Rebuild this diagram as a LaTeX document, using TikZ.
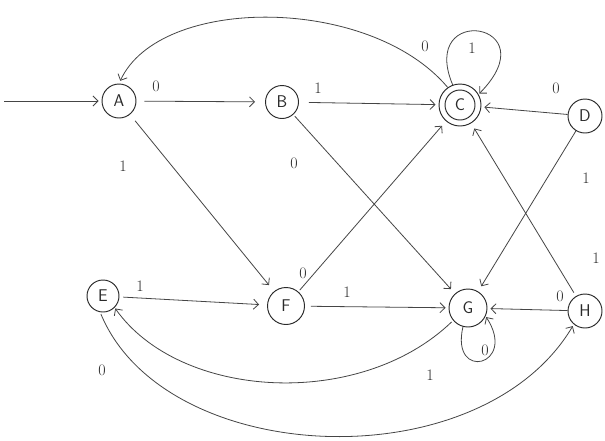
\documentclass[tikz,border=0pt]{standalone}
\usetikzlibrary{arrows.meta}
\definecolor{ink}{HTML}{2A2A2A}
\definecolor{pen}{HTML}{454545}
\begin{document}
\begin{tikzpicture}[x=1pt,y=-1pt,
  state/.style={circle,draw=ink,line width=0.95pt,inner sep=0pt,text=ink,
    font=\sffamily\fontsize{17}{17}\selectfont},
  edge/.style={draw=pen,line width=0.8pt,-{Straight Barb[length=5pt,width=10pt]},
    shorten >=3pt,shorten <=3pt},
  lbl/.style={inner sep=0pt,text=ink,font=\fontsize{16}{16}\selectfont}]
\useasboundingbox[fill=white] (0,0) rectangle (605,440);

% states
\node[state,minimum size=34pt] (A) at (119,101) {A};
\node[state,minimum size=33pt] (B) at (282,102) {B};
\node[state,minimum size=42pt] (C) at (460,105) {C};
\draw[ink,line width=0.95pt] (C.center) circle (15pt);
\node[state,minimum size=34pt] (D) at (585,116) {D};
\node[state,minimum size=32pt] (E) at (103,296) {E};
\node[state,minimum size=37pt] (F) at (286,306) {F};
\node[state,minimum size=38pt] (G) at (468,308) {G};
\node[state,minimum size=34pt] (H) at (585,311) {H};

% start arrow
\coordinate (start) at (4,101);
\draw[edge,shorten <=0pt] (start) -- (A);

% horizontal transitions
\draw[edge,shorten <=8pt,shorten >=10pt] (A) -- (B);
\draw[edge,shorten <=10pt] (B) -- (C);
\draw[edge,shorten <=0pt] (D) -- (C);
\draw[edge,shorten <=4pt,shorten >=8pt] (E) -- (F);
\draw[edge,shorten <=6pt] (F) -- (G);
\draw[edge,shorten <=0pt] (H) -- (G);

% diagonals
\draw[edge,shorten <=8pt,shorten >=8pt] (A) -- (F);
\draw[edge,shorten <=2pt,shorten >=6pt] (B) -- (G);
\draw[edge,shorten <=2pt,shorten >=6pt] (F) -- (C);
\draw[edge,shorten <=0pt,shorten >=6pt] (D) -- (G);
\draw[edge,shorten <=4pt,shorten >=6pt] (H) -- (C);

% curved transitions
\draw[edge,shorten <=0pt] (C.125) .. controls (370,-5) and (160,-5) .. (A.north);
\draw[edge,shorten <=0pt,shorten >=1pt] (C.110) .. controls (418,2) and (550,22) .. (C.30);
\draw[edge,shorten <=0pt,shorten >=1pt] (G.255) .. controls (450,382) and (518,366) .. (G.-25);
\draw[edge,shorten <=2pt,shorten >=1pt] (G.-140) .. controls (360,410) and (180,400) .. (E.-45);
\draw[edge,shorten <=2pt,shorten >=2pt] (E.-100) .. controls (165,468) and (480,482) .. (H.-130);

% labels
\node[lbl] (l1) at (156,86) {0};
\node[lbl] (l2) at (318,88) {1};
\node[lbl] (l3) at (472,48) {1};
\node[lbl] (l4) at (556,88) {0};
\node[lbl] (l5) at (425,46) {0};
\node[lbl] (l6) at (123,166) {1};
\node[lbl] (l7) at (294,163) {0};
\node[lbl] (l8) at (586,178) {1};
\node[lbl] (l9) at (303,273) {0};
\node[lbl] (l10) at (596,258) {1};
\node[lbl] (l11) at (140,286) {1};
\node[lbl] (l12) at (347,292) {1};
\node[lbl] (l13) at (560,296) {0};
\node[lbl] (l14) at (485,350) {0};
\node[lbl] (l15) at (430,375) {1};
\node[lbl] (l16) at (102,370) {0};
\end{tikzpicture}
\end{document}
